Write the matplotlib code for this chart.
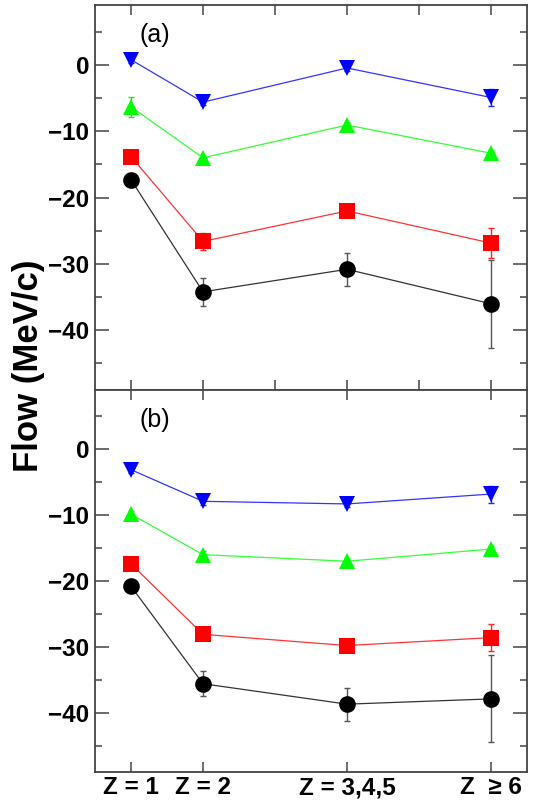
import matplotlib
matplotlib.use("Agg")
import matplotlib.pyplot as plt
from matplotlib.ticker import MultipleLocator

plt.rcParams['font.family'] = ['Liberation Sans', 'DejaVu Sans']

# x positions of the charge classes on the axis
x_pos = [1, 2, 4, 6]
x_labels = ["Z = 1", "Z = 2", "Z = 3,4,5", "Z  \u2265 6"]

# panel (a)
a_black = [-17.3, -34.2, -30.8, -36.0]
a_black_err = [0.5, 2.1, 2.5, 6.65]
a_red = [-13.8, -26.6, -22.0, -26.85]
a_red_err = [0.5, 1.3, 0.5, 2.2]
a_green = [-6.3, -14.0, -9.05, -13.3]
a_green_err = [1.5, 0.5, 0.5, 0.5]
a_blue = [0.8, -5.6, -0.45, -4.9]
a_blue_err = [0.5, 0.5, 0.5, 1.3]

# panel (b)
b_black = [-20.8, -35.6, -38.7, -37.9]
b_black_err = [0.5, 1.9, 2.5, 6.6]
b_red = [-17.4, -28.1, -29.8, -28.6]
b_red_err = [0.5, 0.5, 0.5, 2.1]
b_green = [-9.85, -16.0, -17.0, -15.15]
b_green_err = [0.5, 0.5, 0.5, 0.5]
b_blue = [-3.1, -7.9, -8.3, -6.8]
b_blue_err = [0.5, 0.5, 0.5, 1.3]

panels = [
    ("(a)", [(a_black, a_black_err, 'black', 'o', '#555555'),
             (a_red, a_red_err, '#ff0000', 's', '#ff2020'),
             (a_green, a_green_err, '#00ff00', '^', '#20e020'),
             (a_blue, a_blue_err, '#0000ff', 'v', '#2020ff')]),
    ("(b)", [(b_black, b_black_err, 'black', 'o', '#555555'),
             (b_red, b_red_err, '#ff0000', 's', '#ff2020'),
             (b_green, b_green_err, '#00ff00', '^', '#20e020'),
             (b_blue, b_blue_err, '#0000ff', 'v', '#2020ff')]),
]

fig = plt.figure(figsize=(5.35, 8.01), dpi=100)
left, right = 95 / 535, 527 / 535
top_a, bot_a = 1 - 5.3 / 801, 1 - 390 / 801
bot_b = 1 - 772 / 801
ax_a = fig.add_axes([left, bot_a, right - left, top_a - bot_a])
ax_b = fig.add_axes([left, bot_b, right - left, bot_a - bot_b])

frame_col = '#444444'
for ax, (lab, series) in zip([ax_a, ax_b], panels):
    for vals, errs, col, mk, ecol in series:
        ax.plot(x_pos, vals, '-', color=col, lw=0.9, alpha=0.8, zorder=2)
        ax.errorbar(x_pos, vals, yerr=errs, fmt='none', ecolor=ecol,
                    elinewidth=1.0, capsize=2.5, capthick=1.0, zorder=3)
        ax.plot(x_pos, vals, linestyle='none', marker=mk, color=col,
                markersize=12 if mk != 's' else 11.3, markeredgewidth=0, zorder=4)
    ax.set_xlim(0.5, 6.5)
    ax.set_ylim(-49, 9)
    ax.xaxis.set_major_locator(MultipleLocator(1))
    ax.yaxis.set_minor_locator(MultipleLocator(5))
    ax.tick_params(axis='y', which='major', direction='in', length=10, width=1.1,
                   color=frame_col, left=True, right=True, pad=4)
    ax.tick_params(axis='y', which='minor', direction='in', length=5, width=1.1,
                   color=frame_col, left=True, right=True)
    ax.tick_params(axis='x', which='major', direction='in', length=7.5, width=1.1,
                   color=frame_col, top=True, bottom=True)
    ax.set_yticks([0, -10, -20, -30, -40])
    ax.set_yticklabels(['0', '\u221210', '\u221220', '\u221230', '\u221240'],
                       fontweight='bold', fontsize=17.5)
    for sp in ax.spines.values():
        sp.set_color(frame_col)
        sp.set_linewidth(1.3)
    ax.text(0.103, 0.922, lab, transform=ax.transAxes, fontsize=18,
            ha='left', va='center')

ax_a.set_xticklabels([])
ax_b.set_xticks(x_pos)
ax_b.set_xticklabels(x_labels, fontweight='bold', fontsize=17.5)
ax_b.tick_params(axis='x', pad=3)

fig.text(0.054, 1 - 366 / 801, "Flow (MeV/c)", rotation=90, fontsize=25,
         fontweight='bold', ha='center', va='center')

fig.savefig("out.png", dpi=100)
